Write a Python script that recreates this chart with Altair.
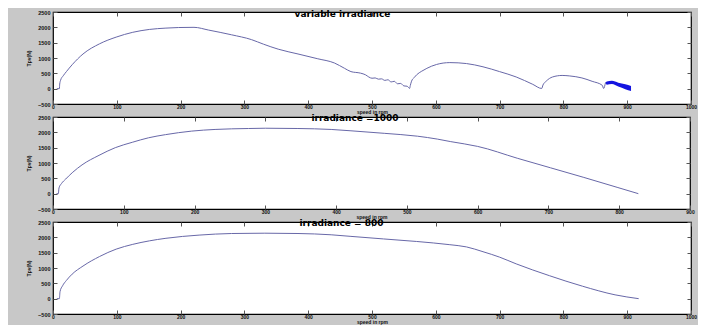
import altair as alt
import pandas as pd

# ---- data ----
p1_x = [6, 10, 10.5, 12, 16, 21, 30, 47, 73, 99, 125, 151, 177, 197, 221, 244, 280, 311, 330,
        353, 384, 415, 441, 457, 467, 482, 490, 495, 500, 505, 510, 515, 520, 525, 530, 535,
        540, 545, 550, 555, 559, 560, 562, 566, 570, 578, 586, 601, 622, 648, 674, 700, 726,
        752, 766, 768, 773, 783, 798, 810, 829, 845, 861, 863, 866]
p1_y = [0, 0, 150, 280, 420, 556, 780, 1130, 1463, 1681, 1838, 1931, 1975, 1994, 2000, 1910,
        1756, 1600, 1450, 1288, 1131, 975, 838, 663, 556, 506, 450, 380, 340, 350, 310, 320,
        270, 290, 220, 240, 160, 170, 90, 80, 10, 100, 244, 360, 453, 570, 663, 788, 850, 819,
        713, 556, 381, 141, 6, 120, 244, 381, 431, 415, 350, 240, 109, 6, 200]
band_x = [866, 868, 876, 886, 897, 906]
band_hi = [200, 234, 255, 193, 140, 88]
band_lo = [200, 130, 151, 69, -16, -78]

p2_x = [5, 7.5, 8.5, 12, 18, 28, 41, 65, 88, 112, 135, 159, 196, 229, 276, 300, 346, 393, 421,
        468, 515, 543, 562, 581, 600, 656, 703, 750, 797, 827]
p2_y = [0, 0, 188, 330, 478, 700, 938, 1250, 1500, 1675, 1822, 1925, 2040, 2094, 2125, 2134,
        2125, 2094, 2050, 1968, 1874, 1780, 1697, 1624, 1541, 1155, 843, 530, 207, 0]

p3_x = [6, 10, 11, 15, 21, 30, 47, 73, 99, 125, 151, 177, 229, 280, 332, 384, 436, 467, 518,
        570, 622, 648, 674, 700, 726, 778, 830, 881, 918]
p3_y = [0, 0, 229, 420, 594, 800, 1063, 1375, 1615, 1771, 1885, 1969, 2073, 2125, 2135, 2125,
        2083, 2031, 1948, 1865, 1760, 1688, 1531, 1354, 1135, 750, 406, 125, 0]

titles = ["variable irradiance", "irradiance =1000", "irradiance = 800"]
x_label = "speed in rpm"
y_label = "Tpv(N)"
y_ticks = [-500, 0, 500, 1000, 1500, 2000, 2500]

FONT = "Liberation Sans"
LINE = "#6868a8"


def panel(df, xmax, title, w, h, title_y, title_dx, band=None):
    xs = alt.Scale(domain=[0, xmax], nice=False, zero=False)
    ys = alt.Scale(domain=[-500, 2500], nice=False, zero=False)
    xt = list(range(0, xmax + 1, 100))
    x_axis = alt.Axis(values=xt, orient="bottom", offset=-4, tickSize=4, domain=False,
                      format="d", labelPadding=0, labelFontSize=5, labelFontWeight="bold",
                      labelFont=FONT, labelColor="#111", tickColor="#555", grid=False,
                      title=x_label, titleFontSize=5, titleFont=FONT, titleFontWeight="bold",
                      titleY=9, titleBaseline="top", titleColor="#111", labelFlush=False)
    y_axis = alt.Axis(values=y_ticks, orient="left", offset=-4, tickSize=4, domain=False,
                      format="d", labelPadding=3, labelFontSize=5.5, labelFontWeight="bold",
                      labelFont=FONT, labelColor="#111", tickColor="#555", grid=False,
                      title=y_label, titleFontSize=5, titleFont=FONT, titleFontWeight="bold",
                      titleX=-26, titleColor="#111", labelFlush=False)
    x_top = alt.Axis(values=xt, orient="top", offset=-4, tickSize=4, domain=False,
                     labels=False, tickColor="#555", grid=False,
                     title=title, titleFont="DejaVu Sans", titleFontSize=9,
                     titleFontWeight="bold", titleColor="#000", titleAlign="center",
                     titleBaseline="alphabetic", titleX=w / 2 + title_dx, titleY=title_y)
    y_right = alt.Axis(values=y_ticks, orient="right", offset=-4, tickSize=4, domain=False,
                       labels=False, title="", tickColor="#555", grid=False)
    line = alt.Chart(df).mark_line(color=LINE, strokeWidth=1, interpolate="monotone").encode(
        x=alt.X("x:Q", scale=xs, axis=x_axis),
        y=alt.Y("y:Q", scale=ys, axis=y_axis),
    )
    ghost = alt.Chart(df).mark_line(opacity=0).encode(
        x=alt.X("x:Q", scale=xs, axis=x_top),
        y=alt.Y("y:Q", scale=ys, axis=y_right),
    )
    layers = [line, ghost]
    if band is not None:
        layers.append(
            alt.Chart(band).mark_area(color="#1414e0", opacity=1, interpolate="monotone").encode(
                x=alt.X("x:Q", scale=xs, axis=None),
                y=alt.Y("lo:Q", scale=ys, axis=None),
                y2="hi:Q",
            )
        )
    return alt.layer(*layers).resolve_axis(x="independent", y="independent").properties(
        width=w, height=h,
    )


df1 = pd.DataFrame({"x": p1_x, "y": p1_y})
dfb = pd.DataFrame({"x": band_x, "hi": band_hi, "lo": band_lo})
df2 = pd.DataFrame({"x": p2_x, "y": p2_y})
df3 = pd.DataFrame({"x": p3_x, "y": p3_y})

chart = alt.vconcat(
    panel(df1, 1000, titles[0], 638, 92, 0, -30, dfb),
    panel(df2, 900, titles[1], 637, 92, -0.5, -17),
    panel(df3, 1000, titles[2], 638, 92, -0.5, -31),
    spacing=13,
    bounds="flush",
).properties(
    background="#c8c8c8",
    padding={"left": 17, "top": 0, "right": 0, "bottom": 0},
).configure_view(
    stroke="#000", strokeWidth=1.2, fill="#ffffff"
).configure_concat(spacing=13)

chart.save("out.html", embed_options={"renderer": "svg", "actions": False})
